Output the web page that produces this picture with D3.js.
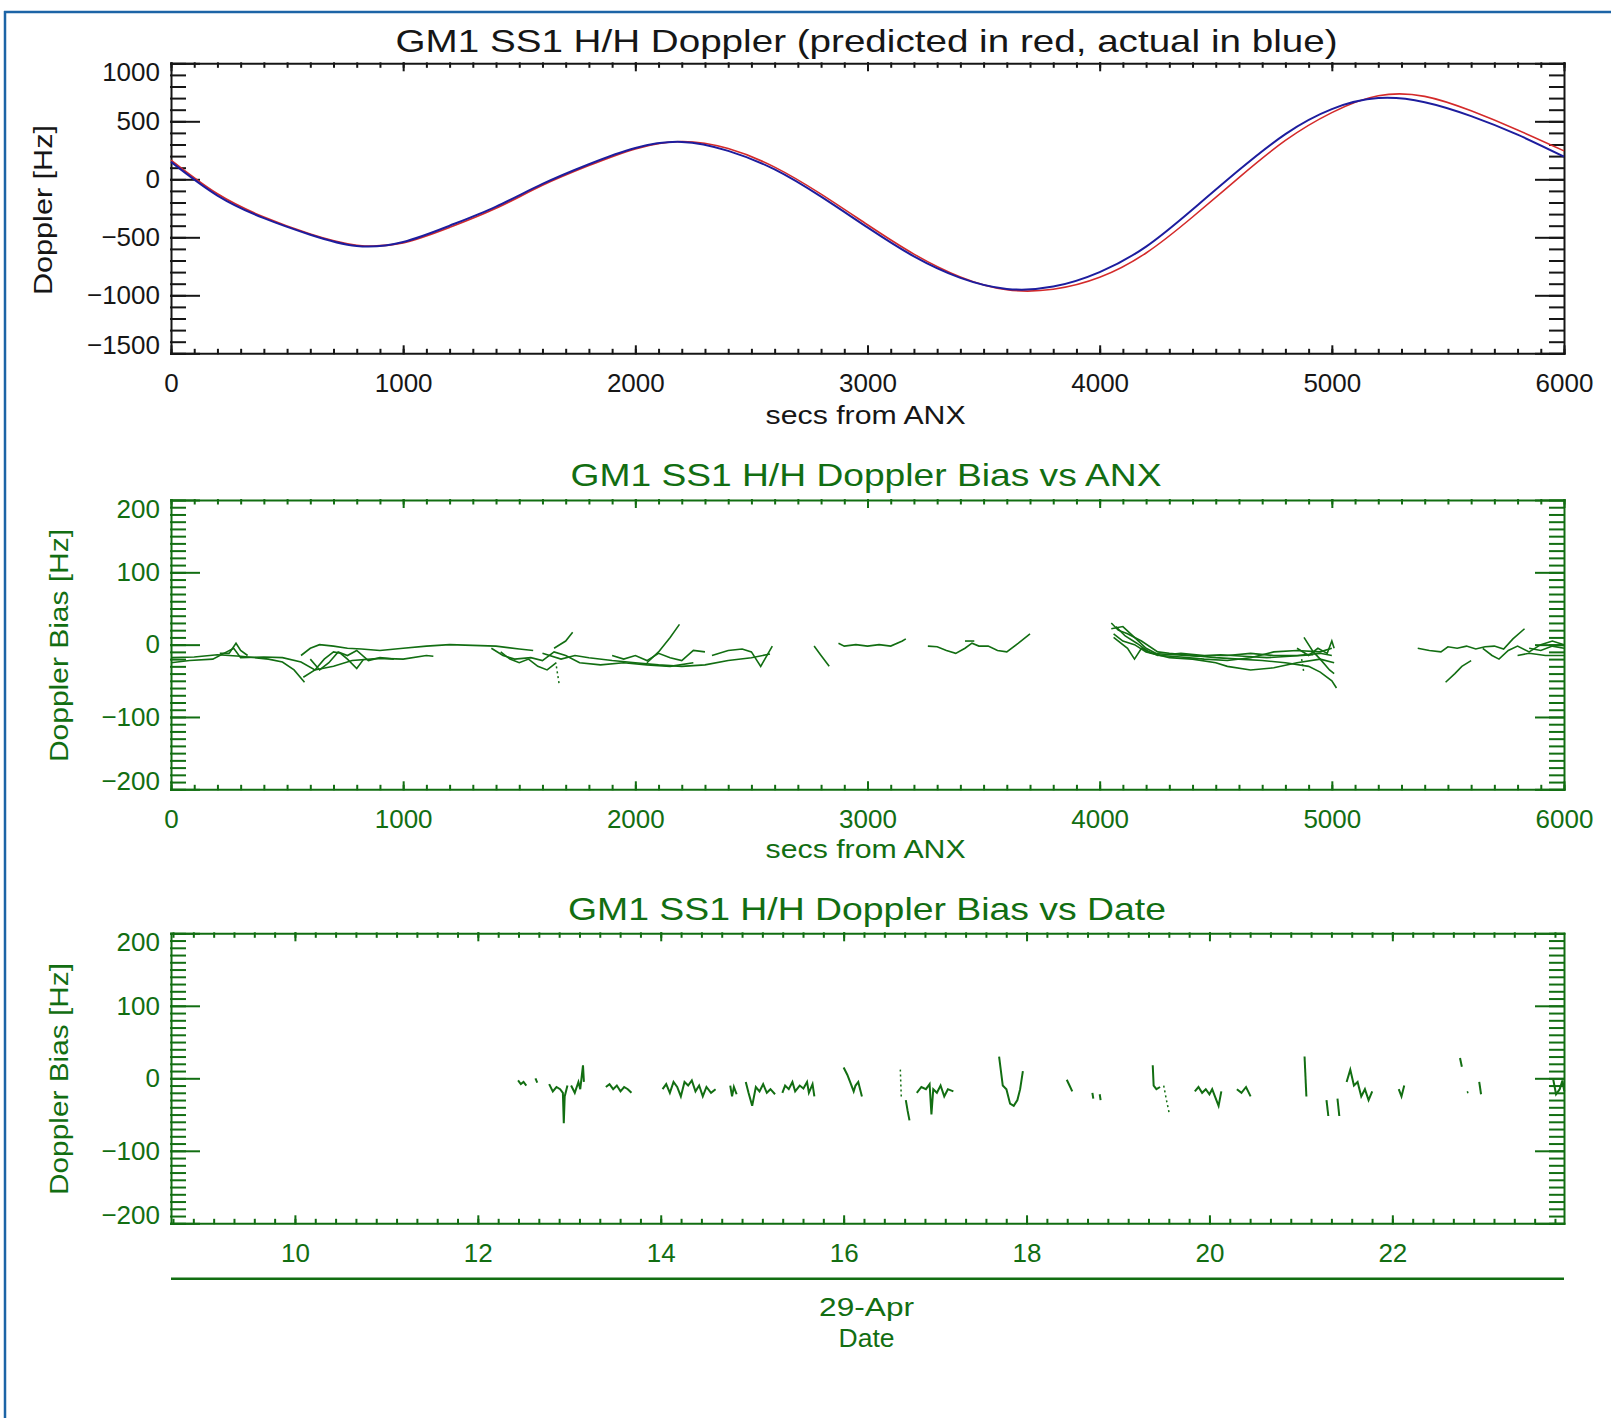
<!DOCTYPE html>
<html><head><meta charset="utf-8">
<script src="https://cdn.jsdelivr.net/npm/d3@7"></script>
<style>
body{margin:0;background:#fff;}
svg{display:block;}
</style></head><body>
<svg id="chart" width="1611" height="1418"></svg>
<script>
// ---------------- DATA ----------------
const secsGrid = [0,200,400,600,800,1000,1200,1400,1600,1800,2000,2200,2400,2600,2800,3000,3200,3400,3600,3800,4000,4200,4400,4600,4800,5000,5200,5400,5600,5800,6000];
const dopplerPredicted = [165,-125,-325,-472,-568,-548,-415,-250,-52,118,262,326,265,105,-128,-392,-645,-842,-952,-948,-845,-635,-325,15,335,575,720,715,590,425,245];
const dopplerActual    = [150,-140,-335,-478,-575,-540,-400,-235,-40,130,270,322,245,85,-150,-415,-665,-850,-945,-925,-800,-580,-260,80,390,605,700,665,545,385,195];

const anxTicks = [0,1000,2000,3000,4000,5000,6000];
const dopplerTicks = [-1500,-1000,-500,0,500,1000];
const biasTicks = [-200,-100,0,100,200];
const hourTicks = [10,12,14,16,18,20,22];
const dateLabel = "29-Apr";

// Doppler bias vs secs from ANX: one array of [secs, Hz] per pass
const biasVsAnxSegments = [
  [[0,-18],[100,-17],[200,-14],[300,-16],[420,-20],[480,-24],[530,-35],[575,-52]],
  [[0,-25],[80,-22],[180,-20],[240,-10],[270,-5],[300,-18],[400,-17],[480,-18],[560,-24],[620,-35],[700,-30],[780,-22],[900,-19],[1000,-20],[1100,-15],[1130,-16]],
  [[210,-12],[250,-12],[280,2],[300,-8],[330,-15]],
  [[560,-15],[600,-5],[640,0],[700,-2],[760,-5],[820,-6],[900,-8],[1000,-5],[1100,-2],[1200,0],[1300,-1],[1400,-2],[1500,-6],[1560,-8]],
  [[600,-20],[640,-35],[680,-25],[720,-10],[760,-15],[800,-8],[850,-22],[900,-18],[960,-20]],
  [[570,-45],[620,-35],[660,-20],[700,-10],[730,-12],[760,-20],[800,-33],[830,-20]],
  [[1380,-5],[1430,-15],[1480,-20],[1550,-18],[1600,-22],[1650,-10],[1700,-15],[1760,-25],[1850,-28],[1950,-25],[2050,-28],[2150,-30],[2250,-25]],
  [[1600,-12],[1680,-20],[1740,-15],[1800,-18],[1900,-22],[2000,-25],[2100,-28],[2200,-30],[2300,-28],[2400,-22],[2500,-18],[2580,-13]],
  [[1650,-5],[1700,5],[1730,17]],
  [[2050,-25],[2100,-10],[2150,10],[2190,28]],
  [[2330,-15],[2400,-8],[2460,-6],[2500,-10],[2540,-30],[2590,-2]],
  [[1420,-10],[1460,-20],[1500,-25],[1540,-20],[1580,-30],[1620,-35],[1660,-25]],
  [[1900,-15],[1950,-20],[2000,-15],[2050,-22],[2100,-12],[2150,-18],[2200,-22],[2250,-8],[2300,-10]],
  [[2770,-2],[2800,-15],[2835,-30]],
  [[2875,2],[2900,-2],[2950,0],[3000,-2],[3050,0],[3100,-2],[3150,5],[3165,8]],
  [[3260,-2],[3300,-3],[3340,-8],[3380,-12],[3420,-5],[3450,2],[3480,-2],[3520,-2],[3560,-8],[3600,-10],[3650,2],[3700,15]],
  [[3420,5],[3460,5]],
  [[4050,30],[4080,20],[4120,15],[4180,5],[4250,-10],[4300,-12],[4400,-15],[4500,-18],[4600,-20],[4700,-22],[4800,-25],[4900,-30],[4950,-38],[5000,-50],[5020,-60]],
  [[4050,22],[4100,25],[4150,10],[4200,-5],[4260,-15],[4350,-17],[4450,-20],[4550,-22],[4650,-18],[4750,-10],[4850,-8],[4950,-10],[5000,-5]],
  [[4060,15],[4100,5],[4150,0],[4200,-10],[4300,-18],[4400,-20],[4500,-25],[4550,-30],[4650,-35],[4750,-32],[4850,-25],[4950,-20],[5010,-25]],
  [[4060,10],[4120,-5],[4150,-20],[4180,-5],[4250,-15],[4350,-12],[4450,-15],[4550,-15],[4650,-12],[4750,-15],[4850,-15],[4950,-12],[5000,-15]],
  [[4070,25],[4110,12],[4160,2],[4220,-12],[4320,-14],[4420,-16],[4520,-14],[4620,-16],[4720,-18],[4820,-16],[4920,-14]],
  [[4880,10],[4920,-10],[4950,-20],[4990,-35],[5010,-40]],
  [[4850,-5],[4900,-15],[4940,-5],[4980,-12],[5000,5],[5010,-5]],
  [[5370,-5],[5420,-8],[5470,-10],[5500,-3],[5540,-5],[5580,-2],[5620,-6],[5660,-3],[5700,-2],[5740,-6],[5780,8],[5830,22]],
  [[5490,-52],[5530,-40],[5560,-30],[5600,-22]],
  [[5650,-5],[5690,-15],[5720,-20],[5760,-8],[5800,-2],[5850,-10],[5900,0],[5950,5],[6000,0]],
  [[5850,-5],[5900,-8],[5950,-2],[6000,-5]],
  [[5800,-15],[5850,-12],[5920,-15],[6000,-15]]
];
const biasVsAnxDotted = [
  [[1660,-30],[1672,-55]],
  [[4870,-20],[4880,-40]]
];

// Doppler bias vs date: [hour of 29-Apr, Hz]
const biasVsDateSegments = [
  [[12.44,-3],[12.47,-8],[12.5,-5],[12.53,-10]],
  [[12.63,0],[12.65,-6]],
  [[12.78,-8],[12.82,-18],[12.86,-12],[12.9,-15],[12.93,-20],[12.94,-62],[12.95,-25],[12.98,-10]],
  [[13.02,-10],[13.06,-20],[13.1,-5],[13.12,-15],[13.15,18],[13.16,-5]],
  [[13.4,-12],[13.44,-8],[13.48,-15],[13.52,-10],[13.56,-18],[13.6,-12],[13.64,-15],[13.68,-20]],
  [[14.02,-15],[14.06,-8],[14.1,-20],[14.14,-5],[14.18,-12],[14.22,-25],[14.26,-5],[14.3,-10],[14.34,-3],[14.38,-18],[14.42,-10],[14.46,-25],[14.5,-12],[14.55,-20],[14.6,-15]],
  [[14.76,-10],[14.78,-25],[14.8,-12],[14.83,-22]],
  [[14.93,-5],[14.96,-20],[15.0,-38],[15.04,-12],[15.08,-18],[15.12,-8],[15.16,-20],[15.2,-15],[15.25,-22]],
  [[15.33,-20],[15.36,-10],[15.4,-15],[15.44,-5],[15.47,-18],[15.52,-10],[15.56,-14],[15.6,-5],[15.62,-20],[15.66,-8],[15.68,-25]],
  [[16.0,15],[16.04,5],[16.08,-8],[16.11,-18],[16.13,-10],[16.16,-5],[16.2,-25]],
  [[16.68,-30],[16.7,-45],[16.72,-58]],
  [[16.8,-20],[16.85,-12],[16.9,-15],[16.94,-8],[16.96,-50],[16.98,-15],[17.02,-20],[17.06,-10],[17.1,-25],[17.14,-15],[17.2,-18]],
  [[17.7,30],[17.74,-10],[17.78,-15],[17.82,-35],[17.86,-38],[17.9,-30],[17.93,-15],[17.96,10]],
  [[18.44,-2],[18.47,-10],[18.5,-18]],
  [[18.72,-20],[18.73,-28]],
  [[18.8,-22],[18.81,-30]],
  [[19.38,18],[19.39,-10],[19.42,-15],[19.46,-12]],
  [[19.84,-18],[19.88,-12],[19.92,-20],[19.96,-15],[20.0,-22],[20.03,-15],[20.06,-25],[20.1,-38],[20.13,-18]],
  [[20.3,-15],[20.35,-20],[20.4,-12],[20.45,-25]],
  [[21.04,30],[21.06,-25]],
  [[21.28,-30],[21.3,-52]],
  [[21.4,-28],[21.42,-52]],
  [[21.5,-5],[21.54,12],[21.58,-10],[21.62,-5],[21.66,-25],[21.7,-15],[21.74,-30],[21.78,-18]],
  [[22.07,-15],[22.1,-25],[22.13,-10]],
  [[22.74,28],[22.76,16]],
  [[22.95,-5],[22.97,-22]],
  [[23.76,-2],[23.79,-22],[23.83,-15],[23.86,-3],[23.88,-18]]
];
const biasVsDateDotted = [
  [[16.62,12],[16.63,-25]],
  [[19.5,-10],[19.53,-30],[19.56,-48]],
  [[22.82,-18],[22.83,-22]]
];

// ---------------- DRAWING ----------------
const FONT = '"Liberation Sans", Arial, "DejaVu Sans", sans-serif';
const GREEN = "#126e12";
const INK = "#161616";
const svg = d3.select("#chart");
const L = 171, R = 1564;

// outer frame
svg.append("line").attr("x1",4).attr("x2",1611).attr("y1",12).attr("y2",12).attr("stroke","#1c64a6").attr("stroke-width",2.5);
svg.append("line").attr("x1",5).attr("x2",5).attr("y1",11).attr("y2",1418).attr("stroke","#1c64a6").attr("stroke-width",2.5);

function styleAxis(g, color){
  g.attr("font-family", FONT).attr("font-size", 26).attr("color", color);
  g.selectAll("line,path").attr("stroke-width", 2).attr("stroke-linecap","square");
  g.selectAll("text").attr("fill", color);
}

function panel(cfg){
  const {top, bottom, x, y, color, xMajor, xMinor, yMajor, yMinor, xFmt, yFmt} = cfg;
  const g = svg.append("g");
  const xmaj = 7, xmin = 3.5, ymaj = 28, ymin = 14;
  g.append("g").attr("transform",`translate(0,${bottom})`)
    .call(d3.axisBottom(x).tickValues(xMinor).tickSizeInner(-xmin).tickSizeOuter(0).tickFormat(""))
    .call(a=>{a.select(".domain").remove(); styleAxis(a,color);});
  const bx = g.append("g").attr("transform",`translate(0,${bottom})`)
    .call(d3.axisBottom(x).tickValues(xMajor).tickSizeInner(-xmaj).tickSizeOuter(0).tickPadding(20).tickFormat(xFmt));
  styleAxis(bx,color);
  g.append("g").attr("transform",`translate(0,${top})`)
    .call(d3.axisTop(x).tickValues(xMinor).tickSizeInner(-xmin).tickSizeOuter(0).tickFormat(""))
    .call(a=>{a.select(".domain").remove(); styleAxis(a,color);});
  const tx = g.append("g").attr("transform",`translate(0,${top})`)
    .call(d3.axisTop(x).tickValues(xMajor).tickSizeInner(-xmaj).tickSizeOuter(0).tickFormat(""));
  styleAxis(tx,color);
  g.append("g").attr("transform",`translate(${L},0)`)
    .call(d3.axisLeft(y).tickValues(yMinor).tickSizeInner(-ymin).tickSizeOuter(0).tickFormat(""))
    .call(a=>{a.select(".domain").remove(); styleAxis(a,color);});
  const ly = g.append("g").attr("transform",`translate(${L},0)`)
    .call(d3.axisLeft(y).tickValues(yMajor).tickSizeInner(-ymaj).tickSizeOuter(0).tickPadding(11).tickFormat(yFmt));
  styleAxis(ly,color);
  const yt = ly.selectAll(".tick text").nodes();
  d3.select(yt[0]).attr("dy","0.0em");
  d3.select(yt[yt.length-1]).attr("dy","0.66em");
  g.append("g").attr("transform",`translate(${R},0)`)
    .call(d3.axisRight(y).tickValues(yMinor).tickSizeInner(-ymin).tickSizeOuter(0).tickFormat(""))
    .call(a=>{a.select(".domain").remove(); styleAxis(a,color);});
  const ry = g.append("g").attr("transform",`translate(${R},0)`)
    .call(d3.axisRight(y).tickValues(yMajor).tickSizeInner(-ymaj).tickSizeOuter(0).tickFormat(""));
  styleAxis(ry,color);
  return g;
}

function label(txt, x, y, color, size, opts={}){
  const t = svg.append("text").text(txt)
    .attr("x",x).attr("y",y)
    .attr("font-family",FONT).attr("font-size",size)
    .attr("fill",color).attr("text-anchor","middle")
    .attr("dominant-baseline","central");
  if (opts.len) t.attr("textLength",opts.len).attr("lengthAdjust","spacingAndGlyphs");
  if (opts.rot) t.attr("transform",`rotate(-90,${x},${y})`);
  return t;
}

function range(a,b,s){const r=[];for(let v=a;v<=b+1e-9;v+=s)r.push(+v.toFixed(6));return r;}
const fmtInt = d3.format("d");

// ----- Panel 1 -----
{
  const top=63.3, bottom=353.3;
  const x = d3.scaleLinear().domain([0,6000]).range([L,R]);
  const y = d3.scaleLinear().domain([-1500,1000]).range([bottom,top]);
  panel({top,bottom,x,y,color:INK,xMajor:anxTicks,xMinor:range(0,6000,100),yMajor:dopplerTicks,yMinor:range(-1500,1000,100),xFmt:fmtInt,yFmt:fmtInt});
  const line = d3.line().x((d,i)=>x(secsGrid[i])).y(d=>y(d)).curve(d3.curveNatural);
  svg.append("path").datum(dopplerPredicted).attr("d",line).attr("fill","none").attr("stroke","#d42a2a").attr("stroke-width",1.6);
  svg.append("path").datum(dopplerActual).attr("d",line).attr("fill","none").attr("stroke","#1d1d9e").attr("stroke-width",2);
  label("GM1 SS1 H/H Doppler (predicted in red, actual in blue)", 866.5, 41, INK, 32, {len:942});
  label("secs from ANX", 865.6, 415, INK, 26, {len:200});
  label("Doppler [Hz]", 43, 210, INK, 26, {rot:true, len:170});
}

// ----- Panel 2 -----
{
  const top=500, bottom=789.3;
  const x = d3.scaleLinear().domain([0,6000]).range([L,R]);
  const y = d3.scaleLinear().domain([-200,200]).range([bottom,top]);
  panel({top,bottom,x,y,color:GREEN,xMajor:anxTicks,xMinor:range(0,6000,100),yMajor:biasTicks,yMinor:range(-200,200,10),xFmt:fmtInt,yFmt:fmtInt});
  const line = d3.line().x(d=>x(d[0])).y(d=>y(d[1]));
  svg.append("g").selectAll("path").data(biasVsAnxSegments).join("path")
    .attr("d",line).attr("fill","none").attr("stroke",GREEN).attr("stroke-width",1.6);
  svg.append("g").selectAll("path").data(biasVsAnxDotted).join("path")
    .attr("d",line).attr("fill","none").attr("stroke",GREEN).attr("stroke-width",1.5).attr("stroke-dasharray","2,3");
  label("GM1 SS1 H/H Doppler Bias vs ANX", 866, 474.7, GREEN, 32, {len:591});
  label("secs from ANX", 865.6, 848.6, GREEN, 26, {len:200});
  label("Doppler Bias [Hz]", 59, 645.5, GREEN, 26, {rot:true, len:233});
}

// ----- Panel 3 -----
{
  const top=933.3, bottom=1223.3;
  const x = d3.scaleLinear().domain([8.645,23.877]).range([L,R]);
  const y = d3.scaleLinear().domain([-200,200]).range([bottom,top]);
  const hMinor = range(8.667,23.877,2/9);
  panel({top,bottom,x,y,color:GREEN,xMajor:hourTicks,xMinor:hMinor,yMajor:biasTicks,yMinor:range(-200,200,10),xFmt:fmtInt,yFmt:fmtInt});
  const line = d3.line().x(d=>x(d[0])).y(d=>y(d[1]));
  svg.append("g").selectAll("path").data(biasVsDateSegments).join("path")
    .attr("d",line).attr("fill","none").attr("stroke",GREEN).attr("stroke-width",2);
  svg.append("g").selectAll("path").data(biasVsDateDotted).join("path")
    .attr("d",line).attr("fill","none").attr("stroke",GREEN).attr("stroke-width",1.5).attr("stroke-dasharray","2,3");
  svg.append("line").attr("x1",L).attr("x2",R).attr("y1",1278.7).attr("y2",1278.7).attr("stroke",GREEN).attr("stroke-width",2.5);
  label(dateLabel, 866.6, 1306.8, GREEN, 26, {len:95});
  label("Date", 866.6, 1337.7, GREEN, 26, {len:56});
  label("GM1 SS1 H/H Doppler Bias vs Date", 867, 909.3, GREEN, 32, {len:598});
  label("Doppler Bias [Hz]", 59, 1079, GREEN, 26, {rot:true, len:232});
}
</script>
</body></html>
